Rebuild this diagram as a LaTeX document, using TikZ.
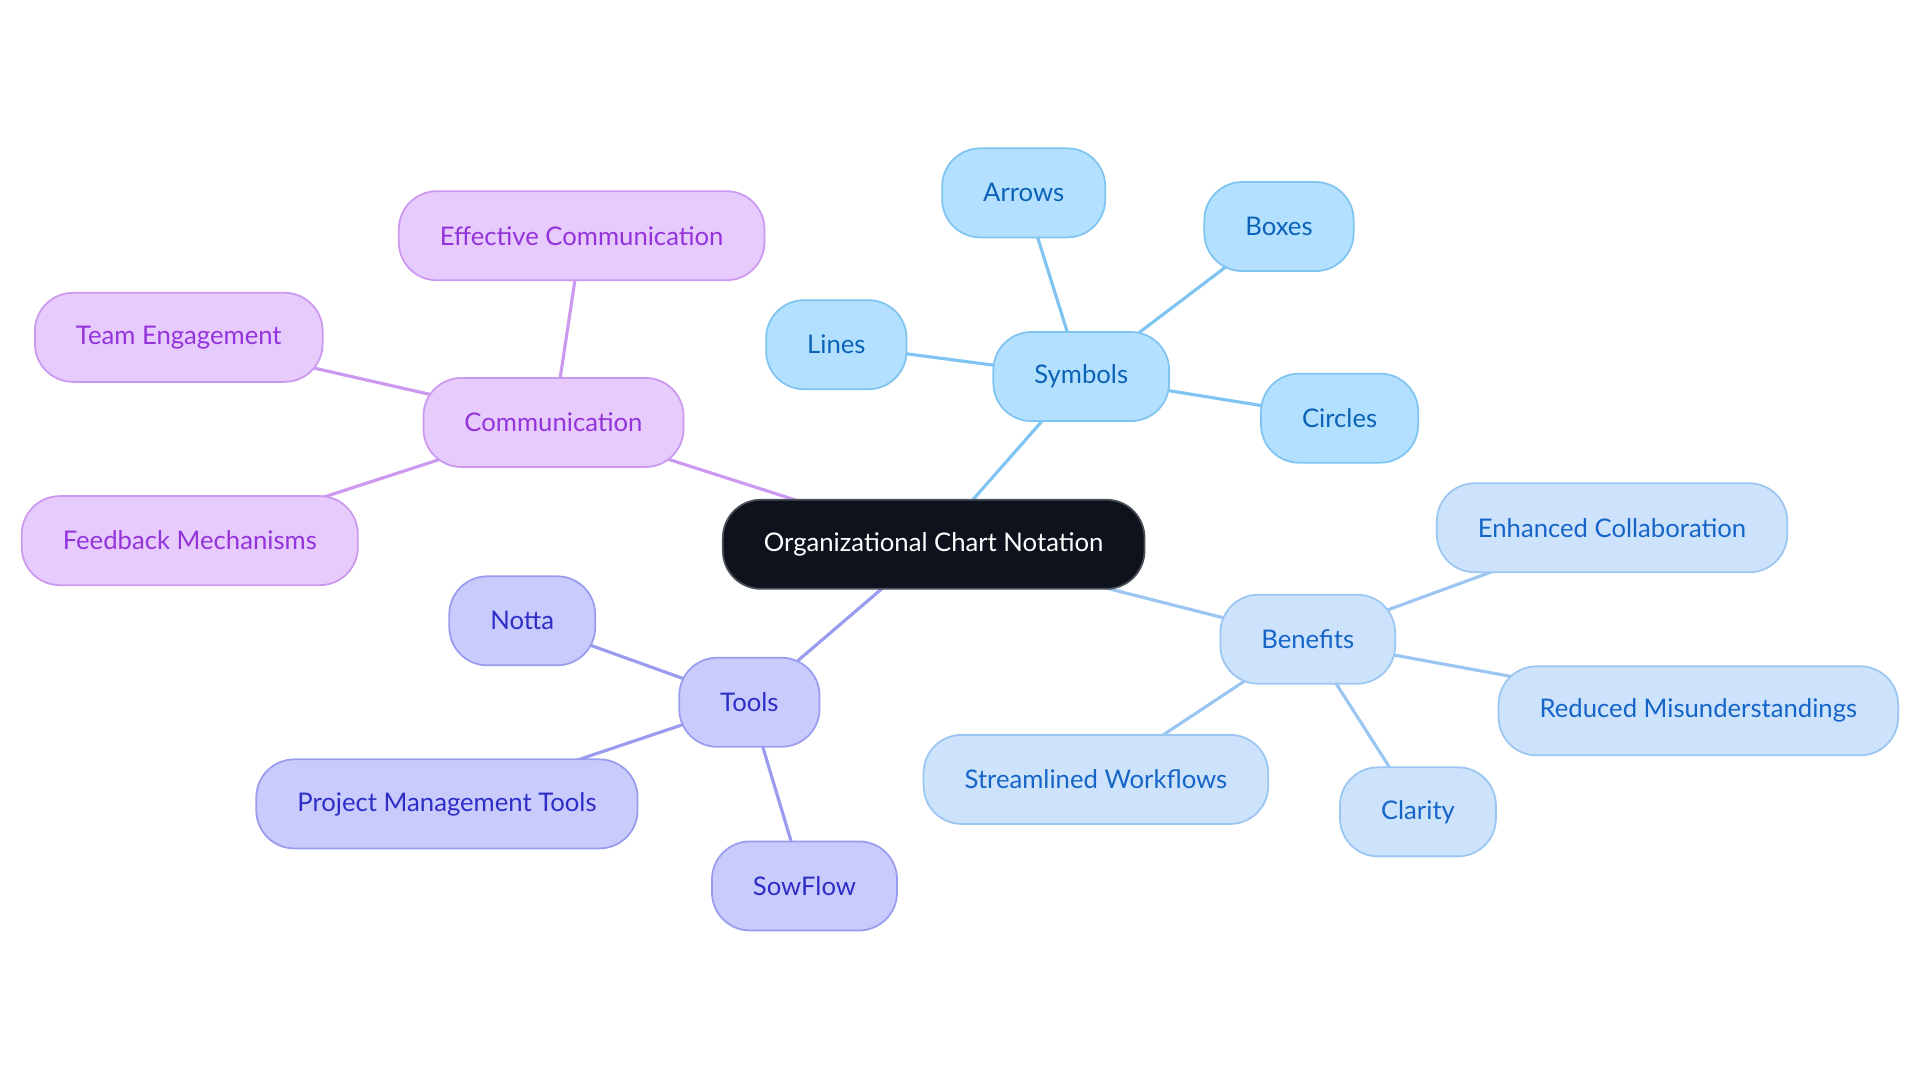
\documentclass[tikz,border=0pt]{standalone}
\usepackage{fontspec}
\setmainfont{Lato}
\usetikzlibrary{positioning}
\usetikzlibrary{backgrounds}

\definecolor{rootfill}{HTML}{0D121C}
\definecolor{rootdraw}{HTML}{4A4F58}
\definecolor{symfill}{HTML}{B3E0FE}
\definecolor{symdraw}{HTML}{80C4F2}
\definecolor{symtext}{HTML}{0B63B8}
\definecolor{benfill}{HTML}{CDE3FB}
\definecolor{bendraw}{HTML}{9BC6F2}
\definecolor{bentext}{HTML}{1565C8}
\definecolor{comfill}{HTML}{E8CBFD}
\definecolor{comdraw}{HTML}{CC99F0}
\definecolor{comtext}{HTML}{9333DB}
\definecolor{toolfill}{HTML}{C9CBFD}
\definecolor{tooldraw}{HTML}{9A9CF0}
\definecolor{tooltext}{HTML}{2E2EC7}

\tikzset{
	topic/.style = {
		rectangle, rounded corners=0.38cm, line width=0.5pt,
		minimum height=0.89cm, inner xsep=0.41cm,
		font=\fontsize{7.3}{9}\selectfont
	},
	root/.style = {topic, fill=rootfill, draw=rootdraw, text=white},
	sym/.style = {topic, fill=symfill, draw=symdraw, text=symtext},
	ben/.style = {topic, fill=benfill, draw=bendraw, text=bentext},
	com/.style = {topic, fill=comfill, draw=comdraw, text=comtext},
	tool/.style = {topic, fill=toolfill, draw=tooldraw, text=tooltext},
	link/.style = {line width=0.9pt}
}

\begin{document}
\begin{tikzpicture}[x=0.012245cm, y=-0.012245cm]
	\useasboundingbox (0,0) rectangle (1568,884);
	% centre
	\node (org) [root] at (762.5,444.5) {Organizational Chart Notation};
	% symbols
	\node (sym) [sym] at (883,307.5) {Symbols};
	\node (arrows) [sym] at (836,157.5) {Arrows};
	\node (boxes) [sym] at (1044.5,185) {Boxes};
	\node (lines) [sym] at (683,281.5) {Lines};
	\node (circles) [sym] at (1094,341.5) {Circles};
	% benefits
	\node (ben) [ben] at (1068,522) {Benefits};
	\node (collab) [ben] at (1316.5,431) {Enhanced Collaboration};
	\node (misund) [ben] at (1387,580.5) {Reduced Misunderstandings};
	\node (workflows) [ben] at (895,636.5) {Streamlined Workflows};
	\node (clarity) [ben] at (1158,663) {Clarity};
	% communication
	\node (com) [com] at (452,345) {Communication};
	\node (effcom) [com] at (475,192.5) {Effective Communication};
	\node (team) [com] at (146,275.5) {Team Engagement};
	\node (feedback) [com] at (155,441.5) {Feedback Mechanisms};
	% tools
	\node (tools) [tool] at (612,573.5) {Tools};
	\node (notta) [tool] at (426.5,507) {Notta};
	\node (pmtools) [tool] at (365,656.5) {Project Management Tools};
	\node (sowflow) [tool] at (657,723.5) {SowFlow};

	\begin{scope}[on background layer]
		\path [link, draw=symdraw]
		(org.center) edge (sym.center)
		(sym.center) edge (arrows.center)
		(sym.center) edge (boxes.center)
		(sym.center) edge (lines.center)
		(sym.center) edge (circles.center);
		\path [link, draw=bendraw]
		(org.center) edge (ben.center)
		(ben.center) edge (collab.center)
		(ben.center) edge (misund.center)
		(ben.center) edge (workflows.center)
		(ben.center) edge (clarity.center);
		\path [link, draw=comdraw]
		(org.center) edge (com.center)
		(com.center) edge (effcom.center)
		(com.center) edge (team.center)
		(com.center) edge (feedback.center);
		\path [link, draw=tooldraw]
		(org.center) edge (tools.center)
		(tools.center) edge (notta.center)
		(tools.center) edge (pmtools.center)
		(tools.center) edge (sowflow.center);
	\end{scope}
\end{tikzpicture}
\end{document}
